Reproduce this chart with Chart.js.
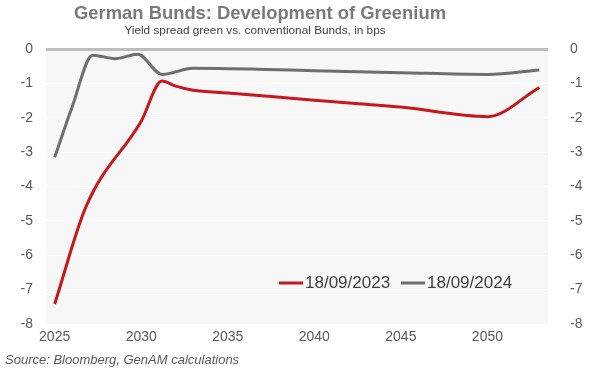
<!DOCTYPE html>
<html>
<head>
<meta charset="utf-8">
<script src="https://cdn.jsdelivr.net/npm/chart.js@4.4.1/dist/chart.umd.min.js"></script>
<style>
  html, body { margin: 0; padding: 0; background: #fff; }
  #wrap { width: 607px; height: 385px; }
</style>
</head>
<body>
<div id="wrap"><canvas id="myChart" width="607" height="385"></canvas></div>
<script>
// values (years, bps)
const years2023 = [2025, 2026.8, 2030, 2031.2, 2032, 2033, 2035, 2040, 2045, 2050, 2053];
const spread2023 = [-7.42, -4.6, -2.1, -0.93, -1.08, -1.2, -1.28, -1.49, -1.69, -1.97, -1.12];
const years2024 = [2025, 2026, 2027.2, 2028.5, 2029.8, 2031.2, 2033, 2040, 2045, 2050, 2053];
const spread2024 = [-3.15, -1.7, -0.18, -0.28, -0.15, -0.74, -0.56, -0.63, -0.69, -0.74, -0.61];
const seriesLabels = ["18/09/2023", "18/09/2024"];
const xTicks = [2025, 2030, 2035, 2040, 2045, 2050];
const yTicks = [0, -1, -2, -3, -4, -5, -6, -7, -8];

const RED = "#c8161d";
const GREY = "#6e6e6e";
const FONT = "'Liberation Sans', Arial, sans-serif";

const toPoints = (xs, ys) => xs.map((x, i) => ({ x: x, y: ys[i] }));

const decor = {
  id: "decor",
  beforeDraw(chart) {
    const { ctx, chartArea: a } = chart;
    ctx.save();
    ctx.fillStyle = "#f7f7f7";
    ctx.fillRect(a.left, a.top, a.right - a.left, a.bottom - a.top);
    ctx.restore();
  },
  afterDatasetsDraw(chart) {
    const { ctx } = chart;
    ctx.save();
    ctx.textBaseline = "middle";
    ctx.textAlign = "center";
    ctx.fillStyle = "#7a7a7a";
    ctx.font = "bold 18.4px " + FONT;
    ctx.fillText("German Bunds: Development of Greenium", 260, 14);
    ctx.fillStyle = "#404040";
    ctx.font = "11.8px " + FONT;
    ctx.fillText("Yield spread green vs. conventional Bunds, in bps", 255, 31);

    ctx.textAlign = "left";
    ctx.fillStyle = "#595959";
    ctx.font = "italic 13px " + FONT;
    ctx.fillText("Source: Bloomberg, GenAM calculations", 5, 360);

    // legend inside plot
    const items = [
      { x: 279, color: RED },
      { x: 401, color: GREY }
    ];
    ctx.font = "17px " + FONT;
    ctx.fillStyle = "#404040";
    items.forEach((it, i) => {
      ctx.strokeStyle = it.color;
      ctx.lineWidth = 3;
      ctx.beginPath();
      ctx.moveTo(it.x, 283);
      ctx.lineTo(it.x + 24, 283);
      ctx.stroke();
      ctx.fillText(seriesLabels[i], it.x + 26, 283);
    });
    ctx.restore();
  }
};

const data = {
  datasets: [
    {
      label: seriesLabels[0],
      data: toPoints(years2023, spread2023),
      borderColor: RED,
      borderWidth: 3,
      pointRadius: 0,
      cubicInterpolationMode: "monotone"
    },
    {
      label: seriesLabels[1],
      data: toPoints(years2024, spread2024),
      borderColor: GREY,
      borderWidth: 3,
      pointRadius: 0,
      cubicInterpolationMode: "monotone"
    }
  ]
};

const tickFont = { family: FONT, size: 14 };

const myChart = new Chart(document.querySelector("#myChart").getContext("2d"), {
  type: "line",
  data,
  plugins: [decor],
  options: {
    responsive: false,
    animation: false,
    layout: { padding: { top: 49, bottom: 33, left: 0, right: 0 } },
    plugins: {
      legend: { display: false },
      title: { display: false },
      tooltip: { enabled: false }
    },
    scales: {
      x: {
        type: "linear",
        min: 2024.5,
        max: 2053.5,
        afterBuildTicks: (s) => { s.ticks = xTicks.map((v) => ({ value: v })); },
        afterFit: (s) => { s.height = 28; },
        grid: { display: false, drawTicks: false },
        border: { display: false },
        ticks: { color: "#595959", font: tickFont, padding: 5, maxRotation: 0, callback: (v) => String(v) }
      },
      y: {
        position: "left",
        min: -8,
        max: 0,
        afterBuildTicks: (s) => { s.ticks = yTicks.map((v) => ({ value: v })); },
        afterFit: (s) => { s.width = 46; },
        grid: {
          drawTicks: false,
          color: (c) => (c.tick && c.tick.value === 0 ? "#bdbdbd" : "#ffffff"),
          lineWidth: (c) => (c.tick && c.tick.value === 0 ? 3 : 1)
        },
        border: { display: false },
        ticks: { color: "#595959", font: tickFont, padding: 13 }
      },
      y2: {
        position: "right",
        min: -8,
        max: 0,
        afterBuildTicks: (s) => { s.ticks = yTicks.map((v) => ({ value: v })); },
        afterFit: (s) => { s.width = 59; },
        grid: { display: false },
        border: { display: false },
        ticks: { color: "#595959", font: tickFont, padding: 14 }
      }
    }
  }
});
</script>
</body>
</html>
